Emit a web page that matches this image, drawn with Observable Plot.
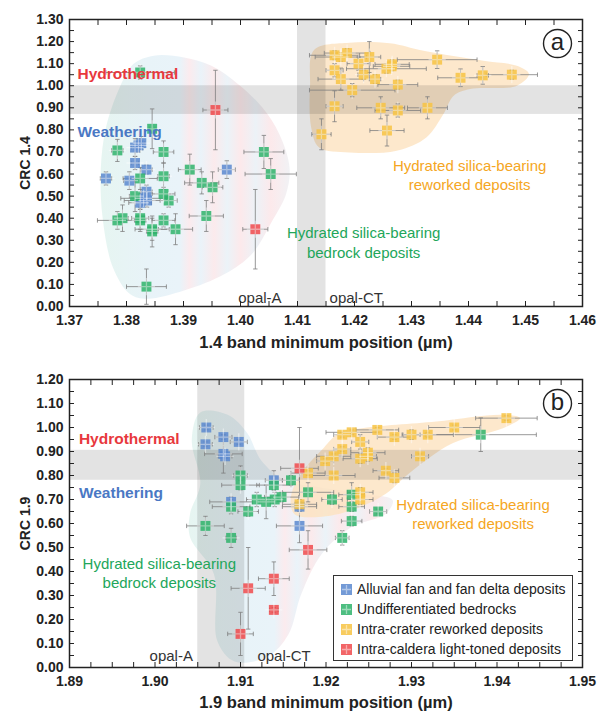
<!DOCTYPE html>
<html><head><meta charset="utf-8">
<script src="https://cdn.jsdelivr.net/npm/d3@7"></script>
<script src="https://cdn.jsdelivr.net/npm/@observablehq/plot@0.6"></script>
<style>
body{margin:0;background:#fff;}
#wrap{position:relative;width:606px;}
#wrap svg{display:block;}
g[aria-label="x-axis tick label"], g[aria-label="y-axis tick label"]{font-weight:bold;}
#legend{position:absolute;left:333px;top:575px;width:238px;height:84px;border:1px solid #333;background:#fff;font:14px "Liberation Sans",Arial,sans-serif;color:#222;}
#legend .row{position:absolute;left:7px;height:20px;display:flex;align-items:center;white-space:nowrap;}
#legend svg{margin-right:5px;}
</style></head>
<body><div id="wrap"></div>
<script>
// ---------- categories ----------
const categories = ["Alluvial fan and fan delta deposits","Undifferentiated bedrocks","Intra-crater reworked deposits","Intra-caldera light-toned deposits"];
const colors = ["#5b88cf","#2fb36b","#f7c343","#f04a4c"];

// ---------- panel a data: [x, y, xerr, yerr] ----------
const aAlluvial = [
[1.3764,0.58,0.001,0.03],[1.3805,0.57,0.001,0.04],[1.3815,0.65,0.0006,0.03],[1.3815,0.72,0.0006,0.04],
[1.3821,0.73,0.0006,0.03],[1.3826,0.74,0.0006,0.03],[1.3835,0.62,0.001,0.02],[1.3835,0.52,0.001,0.03],
[1.3830,0.49,0.004,0.03],[1.3824,0.47,0.002,0.03],[1.3836,0.48,0.004,0.03],[1.3976,0.62,0.0015,0.04]];
const aBedrock = [
[1.3824,1.06,0.006,0.03],[1.3845,0.805,0.0005,0.09],[1.3784,0.707,0.001,0.05],[1.3865,0.70,0.0018,0.05],
[1.3824,0.58,0.003,0.05],[1.3865,0.59,0.001,0.06],[1.3815,0.50,0.001,0.07],[1.3865,0.51,0.002,0.03],
[1.3874,0.48,0.0015,0.03],[1.3784,0.39,0.0035,0.04],[1.3793,0.40,0.001,0.06],[1.3824,0.40,0.0015,0.05],
[1.3824,0.39,0.001,0.05],[1.3845,0.35,0.003,0.05],[1.3845,0.34,0.001,0.07],[1.3865,0.39,0.002,0.03],
[1.3886,0.35,0.003,0.07],[1.3835,0.09,0.0035,0.08],[1.3911,0.62,0.002,0.07],[1.3932,0.56,0.003,0.05],
[1.3951,0.54,0.0018,0.07],[1.3940,0.41,0.003,0.07],[1.4041,0.70,0.0035,0.075],[1.4053,0.60,0.0045,0.07]];
const aReworked = [
[1.4165,1.138,0.0044,0.02],[1.4176,1.13,0.0045,0.02],[1.4187,1.148,0.004,0.02],[1.4207,1.10,0.002,0.03],
[1.4226,1.13,0.002,0.07],[1.4165,1.07,0.0015,0.03],[1.4176,1.03,0.004,0.05],[1.4216,1.05,0.001,0.02],
[1.4236,1.03,0.001,0.02],[1.4256,1.077,0.007,0.02],[1.4265,1.088,0.0032,0.02],[1.4266,1.097,0.003,0.02],
[1.4276,1.005,0.0035,0.02],[1.4196,0.98,0.0075,0.03],[1.4345,1.118,0.007,0.04],[1.4386,1.036,0.004,0.04],
[1.4425,1.047,0.001,0.04],[1.4476,1.05,0.0045,0.02],[1.4165,0.907,0.0015,0.07],[1.4246,0.90,0.0042,0.05],
[1.4276,0.888,0.004,0.03],[1.4328,0.90,0.0035,0.05],[1.4257,0.797,0.003,0.07],[1.4142,0.78,0.0017,0.07]];
const aCaldera = [[1.3956,0.89,0.0022,0.18],[1.4026,0.35,0.0022,0.18]];

// ---------- panel b data ----------
const bAlluvial = [
[1.9060,1.00,0.0008,0.01],[1.9059,0.93,0.0008,0.01],[1.9080,0.96,0.001,0.01],[1.9098,0.94,0.001,0.01],
[1.9080,0.89,0.0022,0.08],[1.9082,0.88,0.0008,0.01],[1.9139,0.78,0.001,0.04],[1.9089,0.69,0.0025,0.02],
[1.9169,0.59,0.0027,0.07],[1.9169,0.67,0.002,0.02]];
const bBedrock = [
[1.9100,0.80,0.0008,0.04],[1.9100,0.76,0.0022,0.02],[1.9089,0.67,0.0022,0.03],[1.9109,0.65,0.0012,0.02],
[1.9119,0.70,0.0012,0.03],[1.9130,0.69,0.0008,0.07],[1.9140,0.70,0.001,0.03],[1.9148,0.71,0.002,0.02],
[1.9139,0.76,0.002,0.02],[1.9159,0.78,0.001,0.02],[1.9059,0.59,0.0022,0.04],[1.9089,0.54,0.0006,0.04],
[1.9179,0.73,0.003,0.04],[1.9207,0.70,0.0012,0.02],[1.9230,0.72,0.0015,0.05],[1.9230,0.67,0.0015,0.02],
[1.9230,0.61,0.0012,0.02],[1.9219,0.54,0.0008,0.03],[1.9261,0.65,0.001,0.01],[1.9381,0.97,0.0065,0.07]];
const bReworked = [
[1.9411,1.039,0.0036,0.01],[1.9350,1.00,0.003,0.01],[1.9319,0.97,0.003,0.01],[1.9300,0.97,0.001,0.02],
[1.9280,0.96,0.002,0.01],[1.9260,0.99,0.0025,0.01],[1.9230,0.98,0.003,0.01],[1.9219,0.97,0.001,0.01],
[1.9240,0.94,0.001,0.03],[1.9219,0.91,0.001,0.01],[1.9249,0.895,0.002,0.02],[1.9249,0.88,0.001,0.02],
[1.9240,0.87,0.002,0.02],[1.9209,0.88,0.002,0.01],[1.9199,0.86,0.001,0.01],[1.9310,0.88,0.001,0.01],
[1.9270,0.82,0.0015,0.01],[1.9280,0.79,0.0018,0.02],[1.9209,0.80,0.0025,0.01],[1.9179,0.81,0.002,0.01],
[1.9240,0.73,0.0015,0.02],[1.9240,0.70,0.0015,0.02],[1.9169,0.68,0.002,0.02]];
const bCaldera = [
[1.9169,0.83,0.0022,0.17],[1.9179,0.49,0.0022,0.08],[1.9139,0.37,0.0018,0.07],
[1.9139,0.24,0.0005,0.01],[1.9109,0.33,0.002,0.17],[1.9100,0.14,0.0015,0.09]];

// ---------- shaded field outlines ----------
const aBedrockField = [[1.3848,1.136],[1.3901,1.128],[1.3949,1.09],[1.3996,1.007],[1.4038,0.902],[1.4068,0.781],
[1.4086,0.63],[1.408,0.51],[1.4056,0.389],[1.402,0.238],[1.3973,0.148],[1.3901,0.072],[1.3836,0.035],[1.3806,0.057],
[1.3776,0.178],[1.3758,0.404],[1.3755,0.63],[1.3764,0.811],[1.3788,0.992],[1.3812,1.098]];
const aReworkedField = [[1.4129,1.162],[1.4191,1.195],[1.4262,1.192],[1.4321,1.158],[1.4426,1.113],[1.4485,1.09],
[1.4506,1.053],[1.4485,1.0],[1.4403,0.985],[1.4374,0.955],[1.4356,0.872],[1.4326,0.766],[1.4274,0.706],
[1.4191,0.698],[1.4138,0.72],[1.4124,0.811],[1.4122,1.0]];
const bBedrockField = [[1.9053,1.063],[1.9085,1.053],[1.9108,0.976],[1.9124,0.864],[1.9152,0.78],[1.9191,0.752],
[1.9242,0.724],[1.9278,0.697],[1.927,0.641],[1.923,0.585],[1.9195,0.473],[1.9171,0.305],[1.9156,0.137],
[1.9132,0.046],[1.9093,0.025],[1.9073,0.109],[1.9069,0.389],[1.9041,0.543],[1.9041,0.641],[1.9053,0.766],[1.9043,0.948]];
const bReworkedField = [[1.9159,0.71],[1.9171,0.808],[1.9195,0.906],[1.9215,0.976],[1.9242,0.997],[1.9329,1.025],
[1.9407,1.053],[1.9427,1.039],[1.9407,0.997],[1.9348,0.934],[1.9297,0.808],[1.927,0.724],[1.923,0.655],
[1.9191,0.627],[1.9163,0.64]];

// ---------- reference bands ----------
const aOpalBand = [1.410, 1.415], aCrcBand = [0.87, 1.00];
const bOpalBand = [1.905, 1.9105], bCrcBand = [0.78, 0.905];

// ---------- tick labels ----------
const aXTicks = [1.37,1.38,1.39,1.40,1.41,1.42,1.43,1.44,1.45,1.46];
const aYTicks = [0,0.1,0.2,0.3,0.4,0.5,0.6,0.7,0.8,0.9,1.0,1.1,1.2,1.3];
const bXTicks = [1.89,1.90,1.91,1.92,1.93,1.94,1.95];
const bYTicks = [0,0.1,0.2,0.3,0.4,0.5,0.6,0.7,0.8,0.9,1.0,1.1,1.2];

// ---------- annotations ----------
const aLabelsBold = [
 {x:1.3714,y:1.055,t:"Hydrothermal",c:"#e8383d"},
 {x:1.3714,y:0.792,t:"Weathering",c:"#4a78c4"}];
const aLabels = [
 {x:1.4402,y:0.60,t:"Hydrated silica-bearing\nreworked deposits",c:"#f5a623"},
 {x:1.4216,y:0.294,t:"Hydrated silica-bearing\nbedrock deposits",c:"#22a65a"},
 {x:1.4034,y:0.045,t:"opal-A",c:"#333"},
 {x:1.4203,y:0.045,t:"opal-CT",c:"#333"}];
const bLabelsBold = [
 {x:1.8911,y:0.954,t:"Hydrothermal",c:"#e8383d"},
 {x:1.8911,y:0.729,t:"Weathering",c:"#4a78c4"}];
const bLabels = [
 {x:1.9372,y:0.642,t:"Hydrated silica-bearing\nreworked deposits",c:"#f5a623"},
 {x:1.9005,y:0.396,t:"Hydrated silica-bearing\nbedrock deposits",c:"#22a65a"},
 {x:1.9019,y:0.054,t:"opal-A",c:"#333"},
 {x:1.9151,y:0.054,t:"opal-CT",c:"#333"}];

const FONT = '"Liberation Sans", Arial, sans-serif';
const capV = {draw(c, s){const r=Math.sqrt(s/Math.PI); c.moveTo(0,-r); c.lineTo(0,r);}};
const capH = {draw(c, s){const r=Math.sqrt(s/Math.PI); c.moveTo(-r,0); c.lineTo(r,0);}};

function gradientDefs(id) {
  return () => {
    const ns = "http://www.w3.org/2000/svg";
    const defs = document.createElementNS(ns, "defs");
    const g = document.createElementNS(ns, "linearGradient");
    g.setAttribute("id", id);
    g.setAttribute("x1", "0"); g.setAttribute("x2", "1"); g.setAttribute("y1", "0"); g.setAttribute("y2", "0");
    const stops = [[0,"#e6f5f1"],[0.25,"#e8f3f8"],[0.42,"#e9f3f9"],[0.47,"#fbebee"],[0.53,"#eaf3f9"],
      [0.6,"#fbeaec"],[0.67,"#ebf3f8"],[0.74,"#fce9eb"],[0.82,"#ecf2f7"],[0.9,"#fce9eb"],[1,"#f1f2f5"]];
    for (const [o,c] of stops) {
      const s = document.createElementNS(ns, "stop");
      s.setAttribute("offset", o); s.setAttribute("stop-color", c);
      g.appendChild(s);
    }
    defs.appendChild(g);
    return defs;
  };
}

function minorTicks(lo, hi, step) {
  const n = Math.round((hi - lo) / step);
  return d3.range(n + 1).map(i => +(lo + i * step).toFixed(5));
}

function makePanel(p) {
  const rows = [];
  p.groups.forEach((g, i) => g.forEach(([x, y, xe, ye]) => rows.push({cat: categories[i], x, y, xe, ye})));
  const xDom = [p.xTicks[0], p.xTicks[p.xTicks.length - 1]];
  const yDom = [p.yTicks[0], p.yTicks[p.yTicks.length - 1]];
  const xMinor = minorTicks(xDom[0], xDom[1], p.xStep);
  const yMinor = minorTicks(yDom[0], yDom[1], 0.05);
  const eb = {stroke: "#7d7d7d", strokeWidth: 0.8};
  return Plot.plot({
    width: 606, height: p.height,
    marginLeft: 69, marginRight: 24, marginTop: p.mt, marginBottom: p.mb,
    style: {fontFamily: FONT, fontSize: "14px", color: "#222", background: "white"},
    x: {domain: xDom},
    y: {domain: yDom},
    color: {domain: categories, range: colors},
    marks: [
      gradientDefs(p.gid),
      Plot.line(p.field, {x: d => d[0], y: d => d[1], curve: "catmull-rom-closed", fill: `url(#${p.gid})`, stroke: "none"}),
      Plot.line(p.rfield, {x: d => d[0], y: d => d[1], curve: "catmull-rom-closed", fill: "#fde2bf", fillOpacity: 0.8, stroke: "none"}),
      Plot.rect([p.opal], {x1: d => d[0], x2: d => d[1], fill: "#000", fillOpacity: 0.11}),
      Plot.rect([p.crc], {y1: d => d[0], y2: d => d[1], fill: "#000", fillOpacity: 0.11}),
      Plot.link(rows, {x1: d => d.x - d.xe, x2: d => d.x + d.xe, y1: "y", y2: "y", ...eb}),
      Plot.link(rows, {x1: "x", x2: "x", y1: d => d.y - d.ye, y2: d => d.y + d.ye, ...eb}),
      Plot.dot(rows, {x: d => d.x - d.xe, y: "y", symbol: capV, r: 2.2, fill: "none", ...eb}),
      Plot.dot(rows, {x: d => d.x + d.xe, y: "y", symbol: capV, r: 2.2, fill: "none", ...eb}),
      Plot.dot(rows, {x: "x", y: d => d.y - d.ye, symbol: capH, r: 2.2, fill: "none", ...eb}),
      Plot.dot(rows, {x: "x", y: d => d.y + d.ye, symbol: capH, r: 2.2, fill: "none", ...eb}),
      Plot.dot(rows, {x: "x", y: "y", symbol: "square", r: 5.6, fill: "cat", fillOpacity: 0.85}),
      Plot.dot(rows, {x: "x", y: "y", symbol: "plus", r: 5.6, stroke: "white", strokeOpacity: 0.45, strokeWidth: 1.3, fill: "none"}),
      Plot.text(p.boldLabels, {x: "x", y: "y", text: "t", fill: "c", fontWeight: "bold", textAnchor: "start", fontSize: 15.5}),
      Plot.text(p.labels, {x: "x", y: "y", text: "t", fill: "c", textAnchor: "middle", fontSize: 15, lineHeight: 1.3}),
      // axis tick labels
      Plot.axisX(p.xTicks, {anchor: "bottom", tickSize: 0, tickPadding: 9, tickFormat: d3.format(".2f"), fontSize: 14, fontWeight: "bold", label: null}),
      Plot.axisY(p.yTicks, {anchor: "left", tickSize: 0, tickPadding: 6, tickFormat: d3.format(".2f"), fontSize: 14, fontWeight: "bold", label: null}),
      // inward ticks on all four sides
      Plot.axisX(xMinor, {anchor: "bottom", tickSize: -5, tickFormat: () => "", label: null, stroke: "#222"}),
      Plot.axisX(xMinor, {anchor: "top", tickSize: -5, tickFormat: () => "", label: null, stroke: "#222"}),
      Plot.axisY(yMinor, {anchor: "left", tickSize: -5, tickFormat: () => "", label: null, stroke: "#222"}),
      Plot.axisY(yMinor, {anchor: "right", tickSize: -5, tickFormat: () => "", label: null, stroke: "#222"}),
      Plot.text([p.xLabel], {frameAnchor: "bottom", dy: p.titleDy, lineAnchor: "middle", text: d => d, fontWeight: "bold", fontSize: 16.5, letterSpacing: "0.3px", fill: "#222"}),
      Plot.text([p.yLabel], {frameAnchor: "left", dx: -44, rotate: -90, lineAnchor: "middle", textAnchor: "middle", text: d => d, fontWeight: "bold", fontSize: 14, fill: "#222"}),
      Plot.dot([p.letter], {frameAnchor: "top-right", dx: -25, dy: 24, r: 14, stroke: "#222", strokeWidth: 1.4, fill: "white"}),
      Plot.text([p.letter], {frameAnchor: "top-right", dx: -25, dy: 23, textAnchor: "middle", lineAnchor: "middle", text: d => d, fontSize: 24, fill: "#222"}),
      Plot.frame({stroke: "#222", strokeWidth: 1.5})
    ]
  });
}

const wrap = document.getElementById("wrap");
const plotA = makePanel({
  height: 353, mt: 19, mb: 47, gid: "gradA", xStep: 0.005, titleDy: 36,
  groups: [aAlluvial, aBedrock, aReworked, aCaldera],
  field: aBedrockField, rfield: aReworkedField, opal: aOpalBand, crc: aCrcBand,
  xTicks: aXTicks, yTicks: aYTicks, boldLabels: aLabelsBold, labels: aLabels,
  xLabel: "1.4 band minimum position (µm)", yLabel: "CRC 1.4", letter: "a"
});
const plotB = makePanel({
  height: 358, mt: 26, mb: 44, gid: "gradB", xStep: 0.0025, titleDy: 35,
  groups: [bAlluvial, bBedrock, bReworked, bCaldera],
  field: bBedrockField, rfield: bReworkedField, opal: bOpalBand, crc: bCrcBand,
  xTicks: bXTicks, yTicks: bYTicks, boldLabels: bLabelsBold, labels: bLabels,
  xLabel: "1.9 band minimum position (µm)", yLabel: "CRC 1.9", letter: "b"
});
wrap.appendChild(plotA);
wrap.appendChild(plotB);

// legend
const legend = document.createElement("div");
legend.id = "legend";
categories.forEach((c, i) => {
  const row = document.createElement("div");
  row.className = "row";
  row.style.top = (3 + i * 20) + "px";
  row.innerHTML = `<svg width="11" height="11"><rect width="11" height="11" fill="${colors[i]}" fill-opacity="0.85"/><path d="M5.5,1V10M1,5.5H10" stroke="white" stroke-opacity="0.45" stroke-width="1.3"/></svg><span>${c}</span>`;
  legend.appendChild(row);
});
wrap.appendChild(legend);
</script></body></html>
